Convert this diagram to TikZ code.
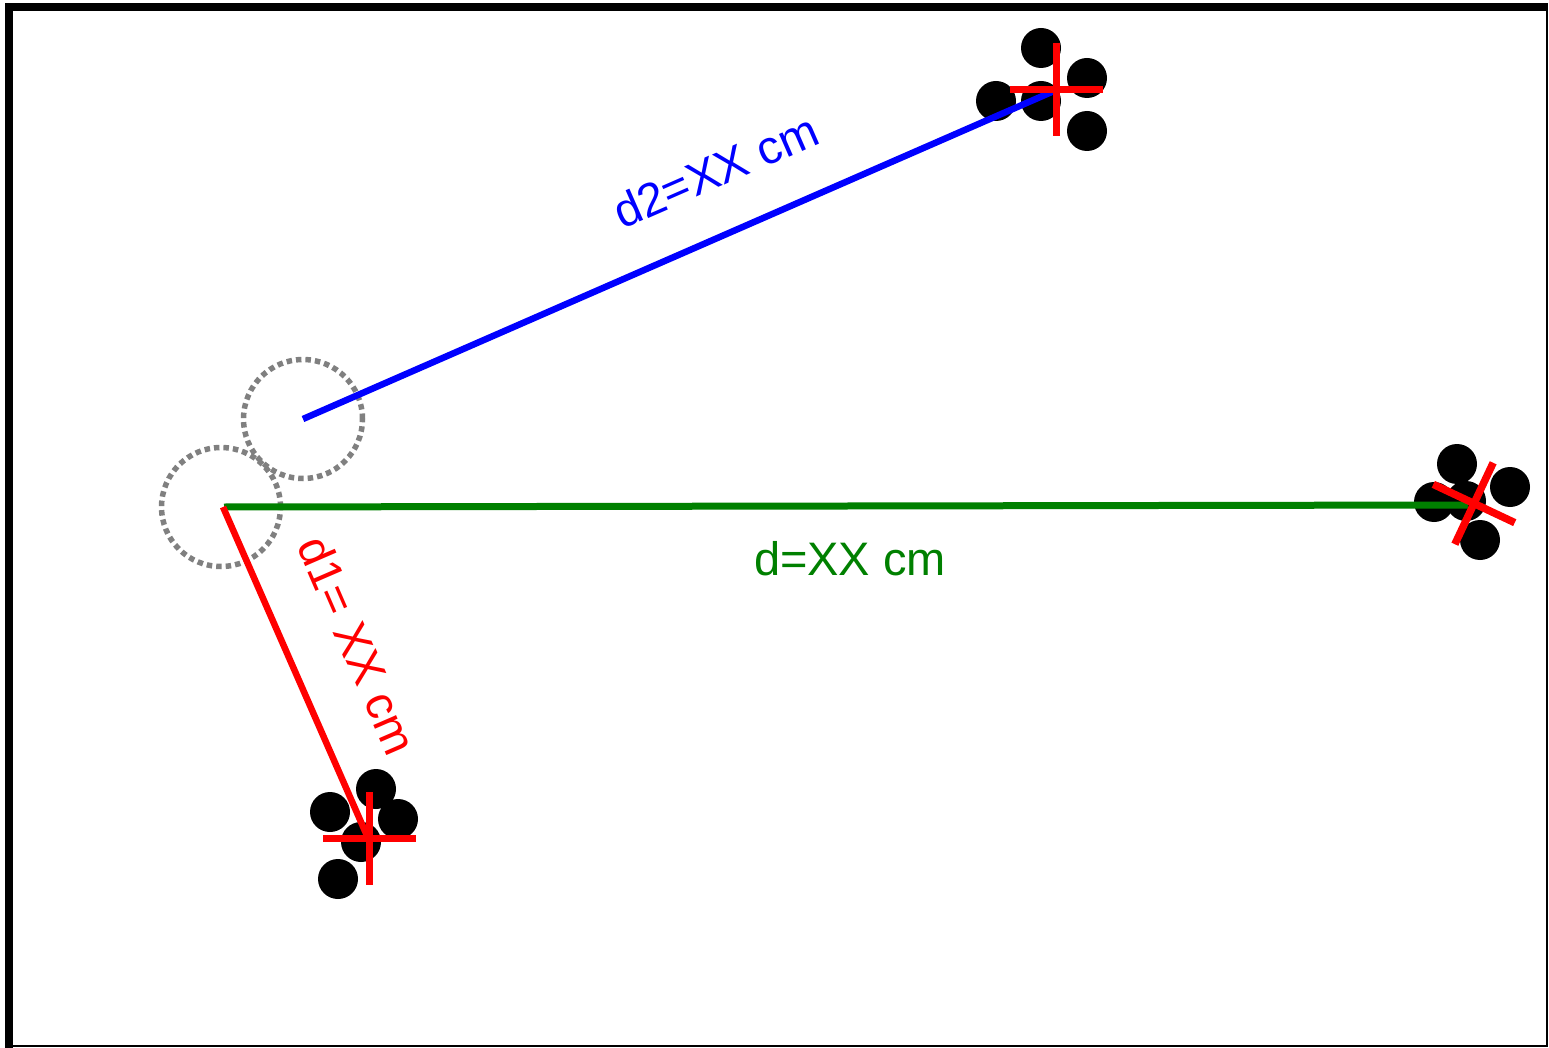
\documentclass[tikz,border=0pt]{standalone}
\usepackage{fontspec}
\setmainfont{Liberation Sans}
\definecolor{dgreen}{RGB}{0,128,0}
\begin{document}
\begin{tikzpicture}[x=1pt,y=-1pt,
  ball/.style={circle,fill=black,inner sep=0pt,minimum size=40pt},
  ring/.style={circle,draw=gray,line width=5.5pt,dash pattern=on 5.5pt off 4pt,inner sep=0pt,minimum size=119pt},
  crossline/.style={draw=red,line width=7.5pt},
  lbl/.style={font=\fontsize{47}{56}\selectfont,anchor=base,inner sep=0pt}]
\useasboundingbox (0,0) rectangle (1549,1048);
% frame
\draw[line width=2pt] (9,1046) -- (1547,1046) -- (1547,7);
\draw[line width=7.5pt] (9,1048) -- (9,7) -- (1548,7);
% rings
\node[ring] (r1) at (303,419) {};
\node[ring] (r0) at (221,507) {};
% clusters
\node[ball] (a1) at (1041,48) {};
\node[ball] (a2) at (1087,78) {};
\node[ball] (a3) at (996,101) {};
\node[ball] (a4) at (1041,101) {};
\node[ball] (a5) at (1087,131) {};
\node[ball] (b1) at (1457,464) {};
\node[ball] (b2) at (1510,487) {};
\node[ball] (b3) at (1434,502) {};
\node[ball] (b4) at (1466,501) {};
\node[ball] (b5) at (1480,540) {};
\node[ball] (c1) at (376,789) {};
\node[ball] (c2) at (330,812) {};
\node[ball] (c3) at (398,819) {};
\node[ball] (c4) at (361,842) {};
\node[ball] (c5) at (338,879) {};
% targets
\coordinate (tA) at (1054,91);
\coordinate (tB) at (1468,505);
\coordinate (tC) at (368,838);
% connectors
\draw[blue,line width=6.5pt] (r1.center) -- (tA);
\draw[dgreen,line width=7pt] ([xshift=3pt]r0.center) -- (tB);
\draw[red,line width=6.5pt] ([xshift=2pt]r0.center) -- (tC);
% crosses
\coordinate (xA) at (1056.5,89.5);
\coordinate (xB) at (1474,503.5);
\coordinate (xC) at (369.5,838.5);
\draw[crossline,shift={(xA)}] (-46.5,0) -- (46.5,0) (0,-46.5) -- (0,46.5);
\draw[crossline,shift={(xC)}] (-46.5,0) -- (46.5,0) (0,-46.5) -- (0,46.5);
\draw[crossline,shift={(xB)},rotate=-25.2] (-45,0) -- (45,0) (0,-45) -- (0,45);
% labels
\node[lbl,text=dgreen] (lg) at (850,575) {d=XX cm};
\node[lbl,text=blue,rotate=23.6] (lb) at (722,186) {d2=XX cm};
\node[lbl,text=red,rotate=-66.6] (lr) at (342,652) {d1= XX cm};
\end{tikzpicture}
\end{document}
